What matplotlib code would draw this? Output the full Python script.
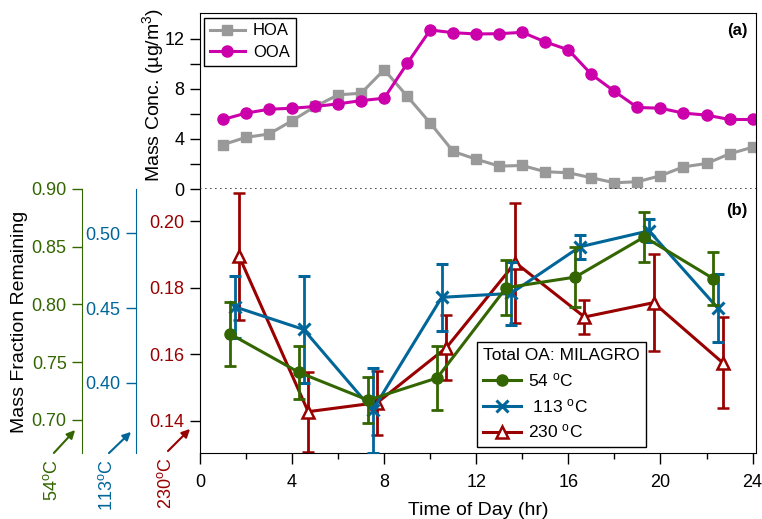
import matplotlib
matplotlib.use("Agg")
import matplotlib.pyplot as plt
import numpy as np

plt.rcParams['font.family'] = ['Liberation Sans', 'DejaVu Sans']
plt.rcParams['mathtext.fontset'] = 'custom'
plt.rcParams['mathtext.rm'] = 'Liberation Sans'
plt.rcParams['mathtext.it'] = 'Liberation Sans:italic'

# panel (a): diurnal mass concentrations
hours = [1, 2, 3, 4, 5, 6, 7, 8, 9, 10, 11, 12, 13, 14, 15, 16, 17, 18, 19, 20, 21, 22, 23, 24]
hoa = [3.55, 4.13, 4.40, 5.46, 6.60, 7.53, 7.66, 9.54, 7.42, 5.27, 3.00, 2.38,
       1.83, 1.88, 1.38, 1.30, 0.90, 0.50, 0.58, 1.06, 1.77, 2.04, 2.81, 3.34]
ooa = [5.56, 6.07, 6.38, 6.46, 6.60, 6.81, 7.07, 7.26, 10.04, 12.72, 12.50, 12.40,
       12.42, 12.53, 11.76, 11.13, 9.17, 7.81, 6.52, 6.46, 6.07, 5.91, 5.56, 5.56]

# panel (b): mass fraction remaining at three temperatures
t54 = [1.3, 4.3, 7.3, 10.3, 13.3, 16.3, 19.3, 22.3]
mfr54 = [0.7745, 0.7411, 0.7171, 0.7363, 0.8145, 0.8237, 0.8585, 0.8223]
err54 = [0.028, 0.0227, 0.020, 0.028, 0.0237, 0.026, 0.0215, 0.0228]

t113 = [1.5, 4.5, 7.5, 10.5, 13.5, 16.5, 19.5, 22.5]
mfr113 = [0.4509, 0.4357, 0.3817, 0.4572, 0.4598, 0.4910, 0.5017, 0.4498]
err113 = [0.0207, 0.036, 0.0285, 0.0225, 0.021, 0.0082, 0.0078, 0.0227]

t230 = [1.7, 4.7, 7.7, 10.7, 13.7, 16.7, 19.7, 22.7]
mfr230 = [0.1894, 0.1428, 0.1455, 0.1620, 0.1875, 0.1712, 0.1755, 0.1575]
err230 = [0.019, 0.012, 0.0096, 0.0098, 0.018, 0.005, 0.0145, 0.0137]

gray = '#999999'
magenta = '#cc00aa'
green = '#336600'
blue = '#006699'
red = '#990000'

fig = plt.figure(figsize=(7.62, 5.19), dpi=100)
W, H = 762.0, 519.0
left = 200 / W
width = 556 / W
ax_a = fig.add_axes([left, 1 - 189 / H, width, (189 - 12.7) / H])
ax_b = fig.add_axes([left, 1 - 453 / H, width, (453 - 189) / H])

# ---- panel (a)
ax_a.plot(hours, hoa, color=gray, lw=2.2, marker='s', ms=6.5, label='HOA')
ax_a.plot(hours, ooa, color=magenta, lw=2.2, marker='o', ms=8, label='OOA')
ax_a.axhline(0, color='#333333', lw=1.2, dashes=(1, 2), clip_on=False, zorder=5)
ax_a.set_xlim(0, 24.15)
ax_a.set_ylim(0, 14.1)
ax_a.set_yticks([0, 4, 8, 12])
ax_a.set_yticks([2, 6, 10], minor=True)
ax_a.tick_params(axis='y', which='major', direction='out', length=7, width=1, labelsize=13, pad=4)
ax_a.tick_params(axis='y', which='minor', direction='out', length=7, width=1)
ax_a.tick_params(axis='x', which='both', bottom=False, labelbottom=False)
ax_a.spines['bottom'].set_visible(False)
ax_a.patch.set_alpha(0)
leg_a = ax_a.legend(loc='upper left', bbox_to_anchor=(0.007, 0.972), borderaxespad=0,
                    fontsize=12, fancybox=False, edgecolor='black', framealpha=1,
                    handlelength=2.1, borderpad=0.35, labelspacing=0.4, handletextpad=0.5)
leg_a.get_frame().set_linewidth(1)
ax_a.text(0.985, 0.9, '(a)', transform=ax_a.transAxes, ha='right', va='center',
          fontsize=12, fontweight='bold')

# ---- panel (b)
eb230 = ax_b.errorbar(t230, mfr230, yerr=err230, color=red, lw=2.2, marker='^', ms=9,
                      mfc='white', mec=red, mew=1.8, capsize=4, capthick=2, elinewidth=2)
ax_b.set_xlim(0, 24.15)
ax_b.set_ylim(0.1304, 0.2096)
ax_b.set_yticks([0.14, 0.16, 0.18, 0.20])
ax_b.set_yticklabels(['0.14', '0.16', '0.18', '0.20'])
ax_b.set_xticks([0, 4, 8, 12, 16, 20, 24])
ax_b.set_xticks([2, 6, 10, 14, 18, 22], minor=True)
ax_b.tick_params(axis='y', direction='out', length=7, width=1, labelsize=13,
                 labelcolor=red, pad=4)
ax_b.tick_params(axis='x', which='major', direction='out', length=8, width=1, labelsize=13, pad=7)
ax_b.tick_params(axis='x', which='minor', direction='out', length=4, width=1)
ax_b.spines['top'].set_visible(False)
ax_b.set_xlabel('Time of Day (hr)', fontsize=14, labelpad=8)

ax_blue = ax_b.twinx()
eb113 = ax_blue.errorbar(t113, mfr113, yerr=err113, color=blue, lw=2.2, marker='x', ms=9,
                         mew=2.2, capsize=4, capthick=2, elinewidth=2)
ax_blue.set_ylim(0.353, 0.5297)
ax_blue.set_yticks([0.40, 0.45, 0.50])
ax_blue.set_yticklabels(['0.40', '0.45', '0.50'])

ax_green = ax_b.twinx()
eb54 = ax_green.errorbar(t54, mfr54, yerr=err54, color=green, lw=2.2, marker='o', ms=8,
                         capsize=4, capthick=2, elinewidth=2)
ax_green.set_ylim(0.6713, 0.90)
ax_green.set_yticks([0.70, 0.75, 0.80, 0.85, 0.90])
ax_green.set_yticklabels(['0.70', '0.75', '0.80', '0.85', '0.90'])

for tw, col, pos in [(ax_blue, blue, -64 / 556), (ax_green, green, -118 / 556)]:
    tw.yaxis.set_ticks_position('left')
    tw.spines['left'].set_position(('axes', pos))
    tw.spines['left'].set_visible(True)
    tw.spines['left'].set_color(col)
    for s in ['right', 'top', 'bottom']:
        tw.spines[s].set_visible(False)
    tw.tick_params(axis='y', direction='out', length=7, width=1, labelsize=13,
                   color=col, labelcolor=col, pad=4)

# legend shows only line + marker, no error bars
handles = [eb54.lines[0], eb113.lines[0], eb230.lines[0]]
labels = ['54 $^\\mathrm{o}$C', ' 113 $^\\mathrm{o}$C', '230 $^\\mathrm{o}$C']
leg_b = ax_green.legend(handles, labels, title='Total OA: MILAGRO',
                        loc='upper left', bbox_to_anchor=(0.498, 0.42), borderaxespad=0,
                        fontsize=12.5, title_fontsize=12.5, fancybox=False, edgecolor='black',
                        framealpha=1, handlelength=2.2, borderpad=0.35, labelspacing=0.45,
                        handletextpad=0.4, alignment='left')
leg_b.get_frame().set_linewidth(1)
ax_green.text(0.985, 0.92, '(b)', transform=ax_b.transAxes, ha='right', va='center',
              fontsize=12, fontweight='bold')

# axis labels
fig.text(153 / W, 1 - 95 / H, 'Mass Conc. (µg/m$^3$)', rotation=90, ha='center',
         va='center', fontsize=14)
fig.text(20 / W, 1 - 322 / H, 'Mass Fraction Remaining', rotation=90, ha='center',
         va='center', fontsize=14)

# temperature labels with arrows pointing to each axis
for label, col, tail, head in [('54$^\\mathrm{o}$C', green, (52, 455), (77, 428)),
                               ('113$^\\mathrm{o}$C', blue, (107, 455), (133, 430)),
                               ('230$^\\mathrm{o}$C', red, (166, 453), (192, 427))]:
    ax_b.annotate('', xy=(head[0], H - head[1]), xytext=(tail[0], H - tail[1]),
                  xycoords='figure pixels', textcoords='figure pixels',
                  arrowprops=dict(arrowstyle='-|>', color=col, lw=1.5, mutation_scale=12),
                  annotation_clip=False)
    fig.text(tail[0] / W, 1 - (tail[1] + 4) / H, label, rotation=90, ha='center', va='top',
             fontsize=13, color=col)

fig.savefig('out.png', dpi=100)
